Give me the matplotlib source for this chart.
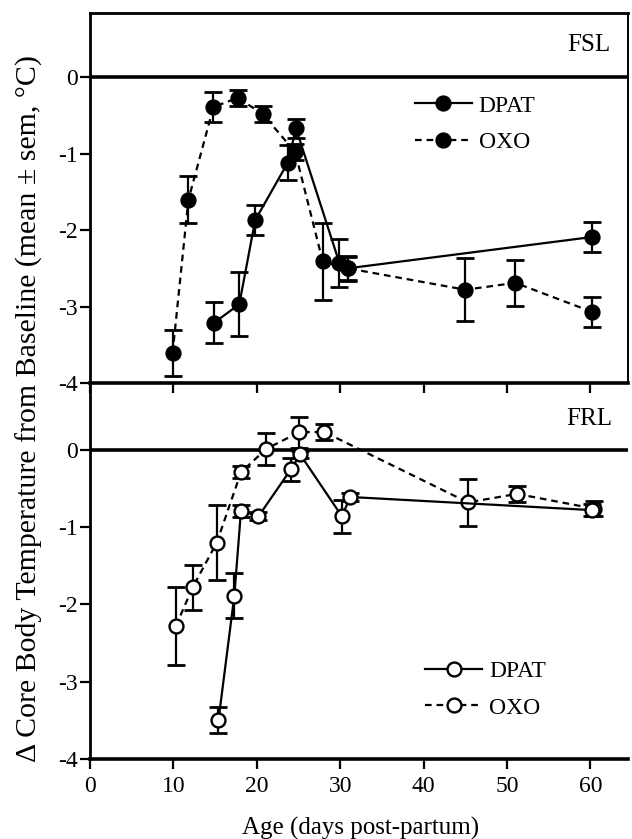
import numpy as np
import matplotlib
matplotlib.use("Agg")
import matplotlib.pyplot as plt

plt.rcParams['font.family'] = ['Liberation Serif', 'DejaVu Serif']
plt.rcParams['axes.unicode_minus'] = False

# FSL panel (top) - filled symbols
fsl_dpat_age = [14.9, 17.9, 19.8, 23.7, 24.7, 29.9, 30.9, 60.2]
fsl_dpat_mean = [-3.21, -2.97, -1.87, -1.12, -0.67, -2.43, -2.50, -2.09]
fsl_dpat_sem = [0.27, 0.42, 0.20, 0.23, 0.12, 0.31, 0.15, 0.20]

fsl_oxo_age = [9.9, 11.8, 14.8, 17.7, 20.7, 24.6, 27.9, 30.9, 45.0, 51.0, 60.2]
fsl_oxo_mean = [-3.61, -1.60, -0.39, -0.27, -0.48, -0.98, -2.41, -2.50, -2.78, -2.69, -3.07]
fsl_oxo_sem = [0.30, 0.31, 0.20, 0.10, 0.10, 0.10, 0.50, 0.16, 0.41, 0.30, 0.20]

# FRL panel (bottom) - open symbols
frl_dpat_age = [15.4, 17.3, 18.1, 20.2, 24.1, 25.2, 30.2, 31.2, 60.2]
frl_dpat_mean = [-3.50, -1.89, -0.79, -0.86, -0.25, -0.06, -0.86, -0.61, -0.78]
frl_dpat_sem = [0.17, 0.29, 0.08, 0.05, 0.15, 0.05, 0.21, 0.05, 0.08]

frl_oxo_age = [10.3, 12.3, 15.2, 18.1, 21.1, 25.1, 28.1, 45.3, 51.2, 60.4]
frl_oxo_mean = [-2.28, -1.78, -1.20, -0.29, 0.01, 0.23, 0.23, -0.68, -0.57, -0.76]
frl_oxo_sem = [0.50, 0.29, 0.49, 0.08, 0.21, 0.20, 0.10, 0.30, 0.10, 0.10]

x_ticks = [0, 10, 20, 30, 40, 50, 60]
y_ticks = [0, -1, -2, -3, -4]

DASH = (0, (3.0, 2.2))
TICK_FS = 17
LAB_FS = 18

fig = plt.figure(figsize=(6.32, 8.39), dpi=100)
ax1 = fig.add_axes([0.1424, 0.5435, 0.8513, 0.441])
ax2 = fig.add_axes([0.1424, 0.0954, 0.8513, 0.4458])
ax2.patch.set_visible(False)
ax1.set_zorder(3)
ax1.patch.set_visible(False)


def draw_series(ax, age, mean, sem, style, filled, label):
    mfc = 'black' if filled else 'white'
    ax.errorbar(age, mean, yerr=sem, fmt='none', ecolor='black',
                elinewidth=1.6, capsize=6.5, capthick=2.0, zorder=2)
    ax.plot(age, mean, linestyle=style, color='black', linewidth=1.6,
            marker='o', markersize=10, markerfacecolor=mfc,
            markeredgecolor='black', markeredgewidth=1.7, label=label, zorder=3)


draw_series(ax1, fsl_oxo_age, fsl_oxo_mean, fsl_oxo_sem, DASH, True, 'OXO')
draw_series(ax1, fsl_dpat_age, fsl_dpat_mean, fsl_dpat_sem, '-', True, 'DPAT')
draw_series(ax2, frl_oxo_age, frl_oxo_mean, frl_oxo_sem, DASH, False, 'OXO')
draw_series(ax2, frl_dpat_age, frl_dpat_mean, frl_dpat_sem, '-', False, 'DPAT')

for ax in (ax1, ax2):
    ax.axhline(0, color='black', linewidth=2.6, zorder=1)
    ax.set_xlim(0, 64.5)
    ax.set_ylim(-4, 0.84)
    ax.set_xticks(x_ticks)
    ax.set_yticks(y_ticks)
    ax.set_yticklabels([str(v) for v in y_ticks], fontsize=TICK_FS)
    ax.tick_params(direction='out', length=7, width=1.6, pad=2)
    ax.tick_params(axis='x', pad=5)
    ax.spines['left'].set_linewidth(2.0)
    ax.spines['bottom'].set_linewidth(2.6)
    ax.spines['top'].set_linewidth(2.0)
    ax.spines['right'].set_linewidth(1.4)

ax1.tick_params(axis='x', labelbottom=False)
ax2.spines['top'].set_visible(False)
ax2.spines['right'].set_visible(False)
ax2.set_xticklabels([str(v) for v in x_ticks], fontsize=TICK_FS)

# Strain labels
ax1.text(62.4, 0.42, 'FSL', fontsize=LAB_FS, ha='right', va='center')
ax2.text(62.6, 0.40, 'FRL', fontsize=LAB_FS, ha='right', va='center')

# Legends (DPAT first)
for ax, xy in ((ax1, (0.604, 0.778)), (ax2, (0.623, 0.262))):
    h, l = ax.get_legend_handles_labels()
    ax.legend(h[::-1], l[::-1], loc='upper left', bbox_to_anchor=xy,
              frameon=False, fontsize=TICK_FS, handlelength=2.4,
              handletextpad=0.3, labelspacing=0.62, borderpad=0,
              borderaxespad=0)

fig.text(0.571, 0.013, 'Age (days post-partum)', fontsize=LAB_FS,
         ha='center', va='center')
fig.text(0.047, 0.5137,
         '\u0394 Core Body Temperature from Baseline (mean \u00b1 sem, \u00b0C)',
         fontsize=21.5, rotation=90, ha='center', va='center')

plt.savefig('out.png', dpi=100)
